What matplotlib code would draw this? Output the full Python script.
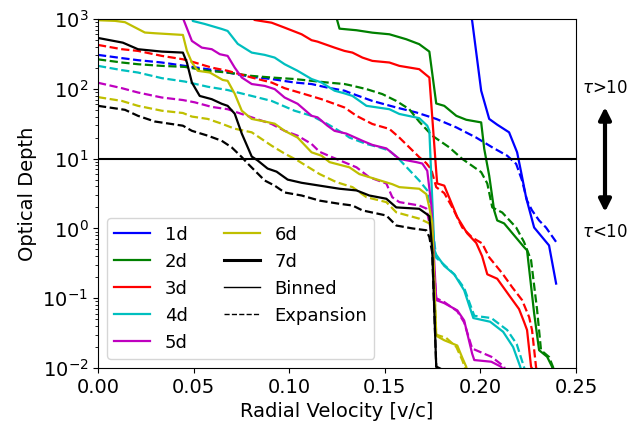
import matplotlib
matplotlib.use("Agg")
import matplotlib.pyplot as plt

# optical depth vs radial velocity, binned (solid) and expansion (dashed)
v_1d = [0, 0.1952, 0.1957, 0.2004, 0.2046, 0.2088, 0.2150, 0.2192, 0.2213, 0.2239, 0.2281, 0.2359, 0.2396]
tau_1d = [1e4, 1100, 935, 94, 37, 30.6, 23.8, 12.3, 6.4, 2.77, 1.03, 0.57, 0.162]
v_1d_exp = [0, 0.0125, 0.0209, 0.0334, 0.0454, 0.0574, 0.0678, 0.0804, 0.0908, 0.1028, 0.1117, 0.12,
            0.1289, 0.1315, 0.1435, 0.156, 0.1665, 0.1769, 0.1874, 0.1978, 0.2062, 0.2140, 0.2187,
            0.2218, 0.2244, 0.2270, 0.2307, 0.2343, 0.2396]
tau_1d_exp = [306, 275, 257, 238, 213, 191, 171, 148, 138, 123, 117, 104,
              94, 88, 67, 54, 45.8, 37, 28, 20, 14.5,
              11, 8.4, 4.85, 2.5, 1.81, 1.3, 1.03, 0.64]

v_2d = [0, 0.1245, 0.1263, 0.1352, 0.1435, 0.1524, 0.1612, 0.168, 0.1733, 0.1769, 0.1811, 0.1874,
        0.1926, 0.2004, 0.2020, 0.2046, 0.2072, 0.2088, 0.2124, 0.2228, 0.2244, 0.2281, 0.2307,
        0.2349, 0.2375, 0.238]
tau_2d = [5000, 1100, 727, 690, 637, 604, 513, 436, 341, 61.6, 57, 41,
          36, 33, 13.8, 5.7, 1.81, 1.3, 1.18, 0.54, 0.485, 0.061, 0.018,
          0.0145, 0.0104, 0.009]
v_2d_exp = [0, 0.0125, 0.0209, 0.0334, 0.0454, 0.0574, 0.0678, 0.0804, 0.0908, 0.1028, 0.1117, 0.12,
            0.1289, 0.1315, 0.1404, 0.1487, 0.156, 0.1628, 0.168, 0.1748, 0.1837, 0.1905, 0.2004,
            0.2036, 0.2062, 0.2114, 0.2187, 0.2228, 0.2265, 0.2296, 0.2317, 0.2359, 0.2380, 0.2385]
tau_2d_exp = [264, 238, 225, 213, 206, 181, 171, 153, 145, 138, 130, 123,
              117, 113, 99, 84, 67, 51, 33.8, 21.3, 14.5, 9.9, 6.4,
              4.4, 2.0, 1.69, 1.03, 0.64, 0.35, 0.07, 0.018, 0.0144, 0.0103, 0.009]

v_3d = [0, 0.080, 0.0819, 0.0908, 0.0976, 0.1065, 0.1117, 0.1148, 0.1237, 0.1289, 0.1331, 0.1383,
        0.1435, 0.1524, 0.1576, 0.168, 0.1733, 0.1769, 0.1774, 0.1811, 0.1879, 0.1931, 0.1978,
        0.2009, 0.2036, 0.2088, 0.215, 0.2202, 0.2228, 0.2244, 0.2265, 0.228]
tau_3d = [4000, 1100, 968, 885, 752, 604, 497, 474, 389, 349, 330, 280,
          251, 238, 213, 191, 145, 6.5, 4.4, 4.1, 1.45, 0.85, 0.62,
          0.40, 0.22, 0.19, 0.11, 0.07, 0.046, 0.035, 0.0104, 0.009]
v_3d_exp = [0, 0.0125, 0.0209, 0.0334, 0.0444, 0.0506, 0.0595, 0.0678, 0.0804, 0.0908, 0.0976, 0.108,
            0.1169, 0.1289, 0.1352, 0.1435, 0.1524, 0.1576, 0.1628, 0.168, 0.1717, 0.1743, 0.1769,
            0.1811, 0.1853, 0.1905, 0.1957, 0.2009, 0.2046, 0.2114, 0.2166, 0.2218, 0.2255, 0.227,
            0.2291, 0.2296]
tau_3d_exp = [425, 369, 349, 296, 265, 238, 201, 181, 145, 123, 102, 84,
              71, 54, 41, 31.3, 26.6, 20, 14.5, 10.5, 8.6, 7.0, 3.9,
              3.2, 2.0, 1.03, 0.74, 0.61, 0.385, 0.228, 0.144, 0.094, 0.0535, 0.035,
              0.0103, 0.009]

v_4d = [0, 0.0490, 0.0496, 0.0558, 0.0647, 0.0678, 0.0731, 0.0804, 0.0872, 0.0924, 0.0976, 0.1044,
        0.1117, 0.1169, 0.1237, 0.1289, 0.1331, 0.1404, 0.1524, 0.1576, 0.168, 0.1722, 0.1733,
        0.1759, 0.1769, 0.1811, 0.1863, 0.1915, 0.1963, 0.2051, 0.2119, 0.2171, 0.2208, 0.2215]
tau_4d = [3000, 1100, 936, 849, 720, 674, 440, 330, 306, 280, 225, 181,
          138, 123, 94, 86, 79, 57, 51, 43.6, 38, 29.6, 25,
          0.5, 0.42, 0.29, 0.22, 0.13, 0.052, 0.046, 0.033, 0.02, 0.0105, 0.009]
v_4d_exp = [0, 0.0125, 0.0209, 0.0334, 0.0454, 0.0574, 0.0678, 0.0804, 0.0908, 0.1028, 0.1117, 0.12,
            0.1289, 0.1315, 0.1404, 0.1472, 0.1524, 0.1576, 0.168, 0.1722, 0.1743, 0.1769, 0.1811,
            0.1863, 0.1915, 0.1968, 0.2057, 0.214, 0.219, 0.2228, 0.2235]
tau_4d_exp = [213, 185, 171, 142, 127, 107, 96, 79, 67, 48.5, 41, 31.3,
              22.5, 20, 16.2, 14.5, 13, 9.7, 4.85, 3.5, 1.5, 0.38, 0.3,
              0.22, 0.14, 0.056, 0.052, 0.035, 0.022, 0.0103, 0.009]

v_5d = [0, 0.044, 0.0491, 0.0543, 0.0595, 0.0637, 0.0678, 0.0715, 0.0752, 0.0804, 0.0872, 0.0924,
        0.0976, 0.1044, 0.1117, 0.1148, 0.12, 0.1237, 0.1299, 0.1383, 0.1435, 0.1508, 0.1576,
        0.1665, 0.1696, 0.1722, 0.1743, 0.1769, 0.1811, 0.1879, 0.1915, 0.1957, 0.1968, 0.2057,
        0.2109, 0.212]
tau_5d = [3000, 1100, 485, 389, 369, 313, 296, 201, 145, 117, 110, 99,
          75, 61, 41, 39, 29.6, 25, 22.8, 18, 15.7, 14, 9.9,
          8.9, 8.5, 6.7, 2.2, 0.094, 0.085, 0.067, 0.048, 0.016, 0.013, 0.0123,
          0.0104, 0.009]
v_5d_exp = [0, 0.0125, 0.0209, 0.0334, 0.0444, 0.0506, 0.0595, 0.0678, 0.0804, 0.0908, 0.0976, 0.1044,
            0.1117, 0.1159, 0.1227, 0.1352, 0.1419, 0.1508, 0.1539, 0.1576, 0.168, 0.1717, 0.1743,
            0.1769, 0.1811, 0.1879, 0.1915, 0.1957, 0.2057, 0.2124, 0.213]
tau_5d_exp = [122, 102, 88.5, 75, 69, 64, 55, 51, 39, 31.3, 25, 21.3,
              16.2, 12.5, 10.4, 7.5, 5.4, 4.4, 2.8, 2.38, 2.13, 1.93, 0.9,
              0.1, 0.088, 0.065, 0.045, 0.019, 0.0145, 0.0105, 0.009]

v_6d = [0, 0.0089, 0.0141, 0.0245, 0.0297, 0.0444, 0.0465, 0.0491, 0.0522, 0.0585, 0.0652, 0.0678,
        0.0715, 0.0752, 0.0804, 0.0872, 0.0924, 0.0976, 0.1044, 0.1117, 0.1169, 0.1211, 0.1315,
        0.1367, 0.1539, 0.1576, 0.168, 0.1717, 0.1733, 0.1748, 0.1769, 0.1811, 0.1879, 0.1905,
        0.1926, 0.193]
tau_6d = [960, 940, 900, 640, 625, 591, 349, 238, 181, 171, 134, 130,
          85, 48.5, 37, 34, 31.6, 25, 20, 12.3, 11, 8.9, 7.5,
          6.0, 4.3, 3.9, 3.7, 3.1, 2.0, 1.2, 0.029, 0.025, 0.021, 0.0141,
          0.0104, 0.009]
v_6d_exp = [0, 0.0125, 0.0209, 0.0334, 0.0444, 0.0491, 0.0574, 0.0647, 0.0715, 0.0804, 0.0908, 0.0976,
            0.1044, 0.1159, 0.1247, 0.1331, 0.1404, 0.1508, 0.156, 0.168, 0.1733, 0.1748, 0.1769,
            0.1821, 0.1874, 0.1905, 0.1926]
tau_6d_exp = [76, 67, 57, 48.5, 45, 40, 37, 31.6, 26.8, 23.8, 15.3, 11.8,
              9.4, 6.0, 4.6, 3.9, 2.8, 2.38, 1.7, 1.38, 1.18, 0.85, 0.03,
              0.027, 0.02, 0.013, 0.009]

v_7d = [0, 0.013, 0.0209, 0.0334, 0.0444, 0.0465, 0.0491, 0.0532, 0.0595, 0.0647, 0.0678, 0.0715,
        0.0752, 0.0804, 0.0835, 0.0887, 0.0934, 0.0992, 0.1065, 0.1159, 0.1263, 0.1352, 0.1419,
        0.1508, 0.156, 0.168, 0.1717, 0.1733, 0.1748, 0.1769, 0.1800, 0.181]
tau_7d = [535, 458, 369, 341, 330, 238, 123, 79, 71, 61, 57, 44,
          22.8, 10.7, 9.4, 7.2, 6.5, 5.0, 4.5, 4.1, 3.7, 3.5, 2.96,
          2.66, 2.0, 1.91, 1.62, 1.5, 0.5, 0.0105, 0.0095, 0.008]
v_7d_exp = [0, 0.0141, 0.0209, 0.0297, 0.0444, 0.0491, 0.0574, 0.0647, 0.0699, 0.0752, 0.0783, 0.0872,
            0.0924, 0.0976, 0.1065, 0.1159, 0.1263, 0.1331, 0.1383, 0.1508, 0.156, 0.1644, 0.1717,
            0.1733, 0.1748, 0.1769, 0.178]
tau_7d_exp = [57, 50, 41, 34, 29.6, 25, 21.3, 18, 14.5, 10.5, 8.5, 4.85,
              4.1, 3.27, 2.96, 2.5, 2.25, 2.13, 1.81, 1.53, 1.1, 1.0, 0.94,
              0.75, 0.45, 0.0105, 0.009]

labels = ['1d', '2d', '3d', '4d', '5d', '6d', '7d']
colors = ['b', 'g', 'r', 'c', 'm', 'y', 'k']
binned = [(v_1d, tau_1d), (v_2d, tau_2d), (v_3d, tau_3d), (v_4d, tau_4d),
          (v_5d, tau_5d), (v_6d, tau_6d), (v_7d, tau_7d)]
expansion = [(v_1d_exp, tau_1d_exp), (v_2d_exp, tau_2d_exp), (v_3d_exp, tau_3d_exp),
             (v_4d_exp, tau_4d_exp), (v_5d_exp, tau_5d_exp), (v_6d_exp, tau_6d_exp),
             (v_7d_exp, tau_7d_exp)]

plt.rcParams['font.size'] = 14

fig = plt.figure(figsize=(6.41, 4.23), dpi=100)
ax = fig.add_axes([0.1529, 0.13, 0.7457, 0.8251])

for i in range(len(labels)):
    ax.plot(binned[i][0], binned[i][1], color=colors[i], lw=1.6, label=labels[i])
    ax.plot(expansion[i][0], expansion[i][1], color=colors[i], lw=1.6, ls='--')

ax.plot([], [], color='k', lw=1, label='Binned')
ax.plot([], [], color='k', lw=1, ls='--', label='Expansion')

ax.axhline(10, color='k', lw=1.5)

ax.set_yscale('log')
ax.set_xlim(0, 0.25)
ax.set_ylim(1e-2, 1e3)
ax.set_xticks([0.0, 0.05, 0.10, 0.15, 0.20, 0.25])
ax.set_xticklabels(['0.00', '0.05', '0.10', '0.15', '0.20', '0.25'])
ax.set_xlabel('Radial Velocity [v/c]')
ax.set_ylabel('Optical Depth')
leg = ax.legend(loc='lower left', ncol=2, fontsize=13)
leg.get_lines()[6].set_linewidth(2.2)

# tau > 10 / tau < 10 marker to the right of the axes
fig.text(605 / 641, 1 - 88 / 423, r'$\tau$>10', ha='center', va='center', fontsize=12)
fig.text(605 / 641, 1 - 232 / 423, r'$\tau$<10', ha='center', va='center', fontsize=12)
ax.annotate('', xy=(605 / 641, 1 - 212 / 423), xytext=(605 / 641, 1 - 107 / 423),
            xycoords='figure fraction', textcoords='figure fraction',
            arrowprops=dict(arrowstyle='<|-|>', color='k', lw=3, mutation_scale=18,
                            shrinkA=0, shrinkB=0))

fig.savefig('out.png', dpi=100)
